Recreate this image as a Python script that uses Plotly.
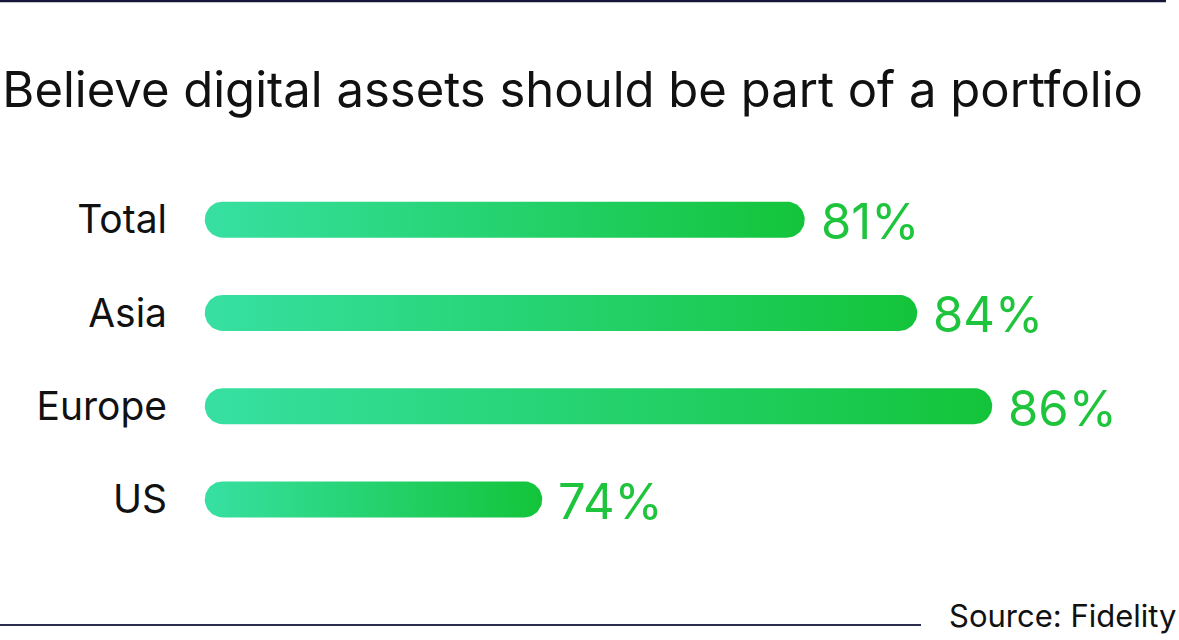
import numpy as np
import plotly.graph_objects as go

# ---- data ----
categories = ["Total", "Asia", "Europe", "US"]
values = [81, 84, 86, 74]
value_labels = ["81%", "84%", "86%", "74%"]
title_text = "Believe digital assets should be part of a portfolio"
source_text = "Source: Fidelity"

# ---- layout geometry ----
W_FIG, H_FIG = 1179, 640
M_L, M_R, M_T, M_B = 186, 10, 173, 94
X_RANGE = [64.5, 64.5 + (W_FIG - M_L - M_R) / 37.5]
BAR_BASE = 65.0
Y_RANGE = [-0.5, len(categories) - 0.5]
plot_w = W_FIG - M_L - M_R
plot_h = H_FIG - M_T - M_B
kx = plot_w / (X_RANGE[1] - X_RANGE[0])   # px per x unit
ky = plot_h / (Y_RANGE[1] - Y_RANGE[0])   # px per y unit
BAR_PX = 36
R_PX = 18

FONT = "Inter"
GREEN = "#1ec43c"
grad = [[0, "#37e0a2"], [1, "#13c43a"]]

y_pos = list(range(len(categories) - 1, -1, -1))

fig = go.Figure()
for cat, v, y in zip(categories, values, y_pos):
    rx = R_PX / kx
    hh = (BAR_PX / 2) / ky
    t1 = np.linspace(-np.pi / 2, np.pi / 2, 30)
    t2 = np.linspace(np.pi / 2, 3 * np.pi / 2, 30)
    xs = np.concatenate([v - rx + rx * np.cos(t1), BAR_BASE + rx + rx * np.cos(t2)])
    ys = np.concatenate([y + hh * np.sin(t1), y + hh * np.sin(t2)])
    xs = np.append(xs, xs[0])
    ys = np.append(ys, ys[0])
    fig.add_trace(go.Scatter(
        x=xs, y=ys, mode="lines", line=dict(width=0),
        fill="toself",
        fillgradient=dict(type="horizontal", colorscale=grad),
        hoverinfo="skip", showlegend=False, name=cat,
    ))

for lab, v, y in zip(value_labels, values, y_pos):
    fig.add_annotation(
        x=v, y=y, xref="x", yref="y", text=lab, showarrow=False,
        xanchor="left", yanchor="middle", xshift=14, yshift=-2,
        font=dict(family=FONT, size=49, color=GREEN),
    )

def px_to_paper_x(px):
    return (px - M_L) / plot_w

def px_to_paper_y(py):
    return (H_FIG - M_B - py) / plot_h

fig.add_shape(type="line", xref="paper", yref="paper",
              x0=px_to_paper_x(0), x1=px_to_paper_x(1166),
              y0=px_to_paper_y(1), y1=px_to_paper_y(1),
              line=dict(color="#15163a", width=2.5))
fig.add_shape(type="line", xref="paper", yref="paper",
              x0=px_to_paper_x(0), x1=px_to_paper_x(921),
              y0=px_to_paper_y(625), y1=px_to_paper_y(625),
              line=dict(color="#2b2c4e", width=2))

fig.add_annotation(
    x=px_to_paper_x(1178), y=px_to_paper_y(615), xref="paper", yref="paper",
    text=source_text, showarrow=False, xanchor="right", yanchor="middle",
    font=dict(family=FONT, size=31, color="#111111"),
)

fig.update_layout(
    width=W_FIG, height=H_FIG,
    margin=dict(l=M_L, r=M_R, t=M_T, b=M_B),
    paper_bgcolor="white", plot_bgcolor="white",
    title=dict(text=title_text, xref="container", yref="container",
               x=0.002, xanchor="left", y=1 - 90 / H_FIG, yanchor="middle",
               font=dict(family=FONT, size=49, color="#111111")),
    xaxis=dict(range=X_RANGE, visible=False, fixedrange=True),
    yaxis=dict(range=Y_RANGE, tickmode="array", tickvals=y_pos, ticktext=categories,
               showgrid=False, zeroline=False, showline=False, ticks="",
               ticklabelstandoff=18, fixedrange=True,
               tickfont=dict(family=FONT, size=39, color="#111111")),
    showlegend=False,
)

fig.write_html("out.html", config={"displayModeBar": False},
               post_script="document.body.style.margin='0';")
